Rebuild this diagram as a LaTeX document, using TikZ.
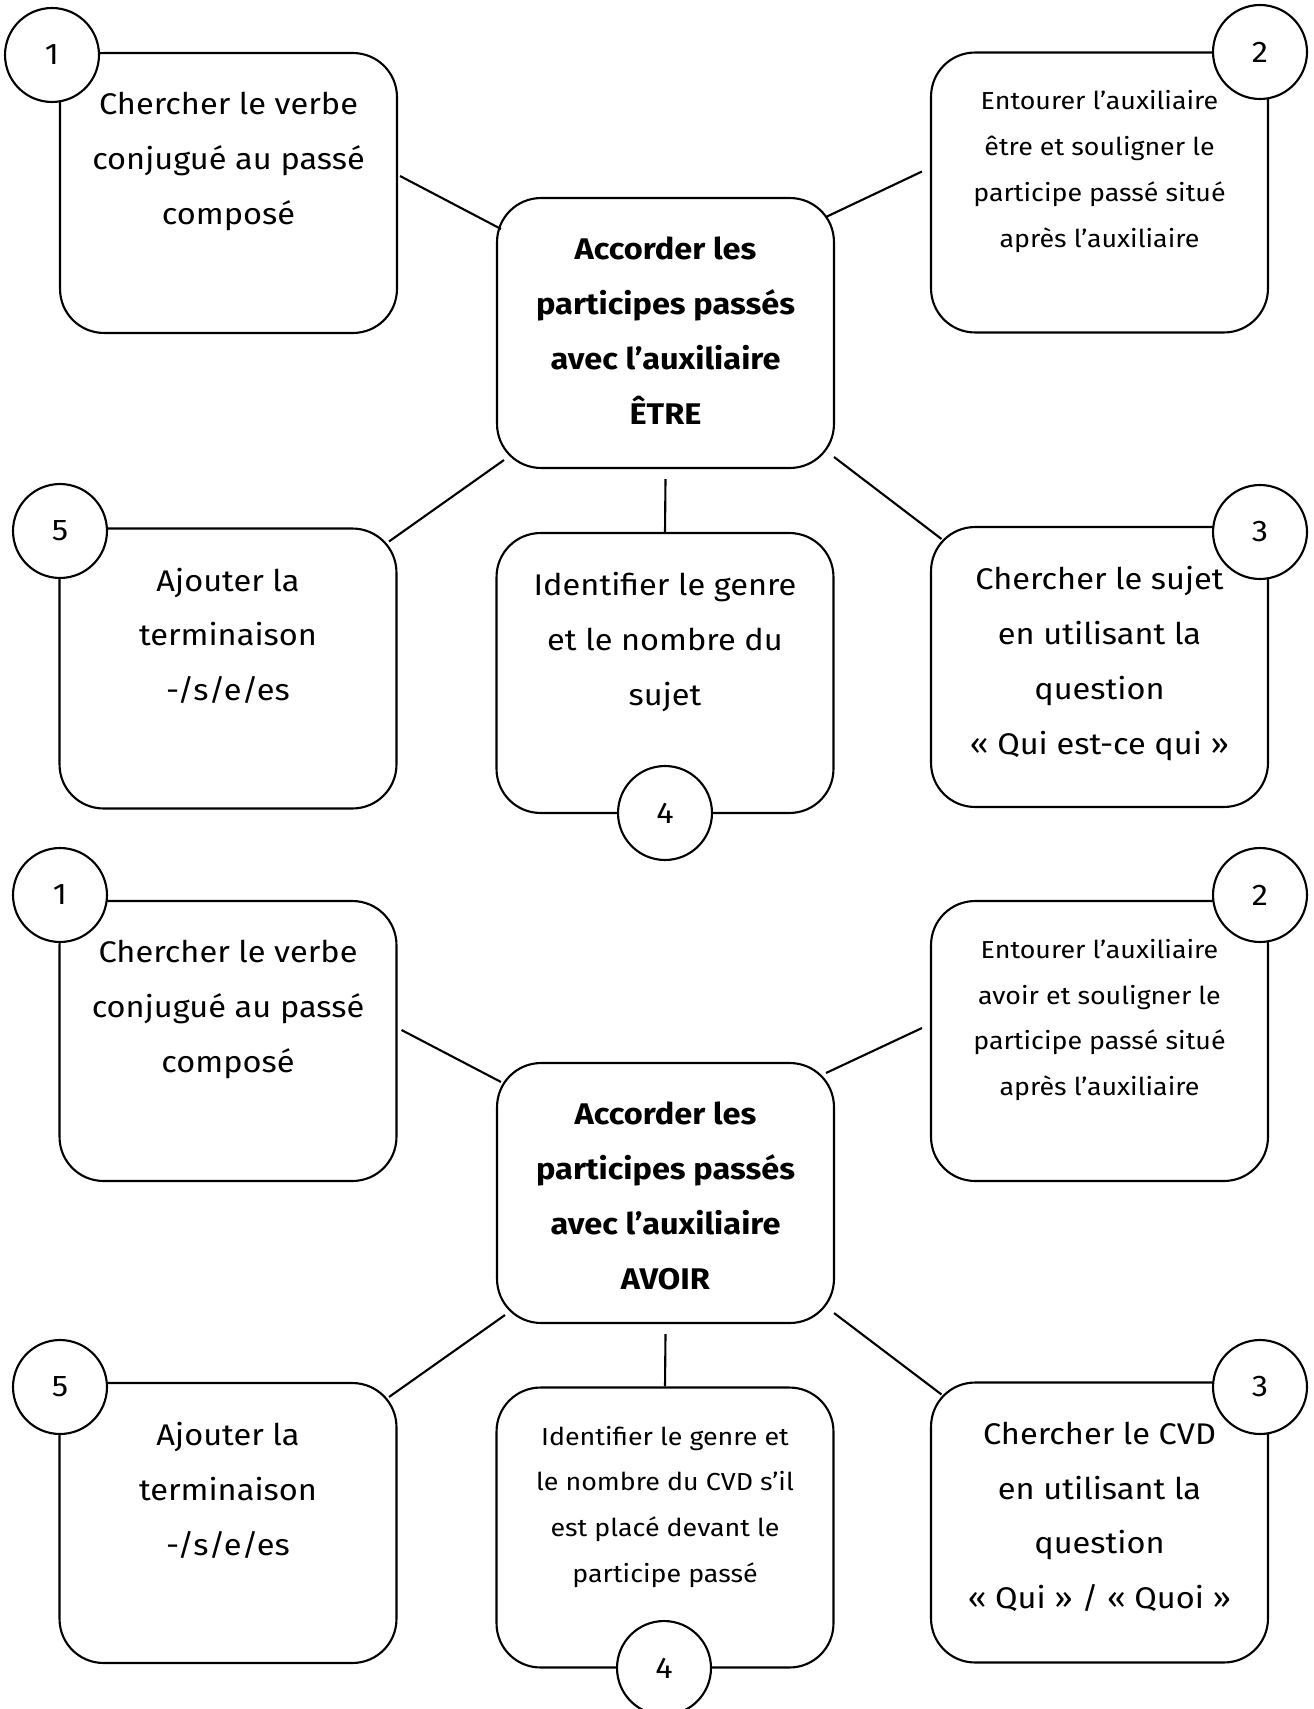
\documentclass[tikz,border=0pt]{standalone}
\usepackage{fontspec}
\setmainfont{Fira Sans}[FakeStretch=1.09]
\usetikzlibrary{positioning}

\tikzset{
  box/.style={draw, line width=1.2pt, rounded corners=0.88cm, minimum width=6.74cm, minimum height=5.6cm, inner sep=0pt},
  bigtxt/.style={align=center, inner sep=0pt, font=\fontsize{17pt}{31.2pt}\selectfont},
  smalltxt/.style={align=center, inner sep=0pt, font=\fontsize{14pt}{26pt}\selectfont},
  headtxt/.style={align=center, inner sep=0pt, font=\fontsize{17pt}{31.2pt}\selectfont\bfseries},
  num/.style={draw, circle, fill=white, line width=1.2pt, minimum size=1.88cm, inner sep=0pt, font=\fontsize{17pt}{20pt}\selectfont},
  link/.style={line width=1.2pt}
}

\begin{document}
\begin{tikzpicture}[x=0.02cm, y=-0.02cm]
    \useasboundingbox (0,0) rectangle (1313,1709);

    % Auxiliaire etre
    \node[box] (e1) at (228.5,193) {};
    \node[box] (e2) at (1099.5,192.5) {};
    \node[box, minimum height=5.4cm] (ec) at (665.5,333) {};
    \node[box] (e5) at (228,668.5) {};
    \node[box] (e4) at (665,673) {};
    \node[box] (e3) at (1099.5,667) {};

    \node[bigtxt, below=0.8cm of e1.north] (e1t) {Chercher le verbe\\conjugué au passé\\composé};
    \node[smalltxt, below=0.78cm of e2.north] (e2t) {Entourer l’auxiliaire\\être et souligner le\\participe passé situé\\après l’auxiliaire};
    \node[headtxt, below=0.8cm of ec.north] (ect) {Accorder les\\participes passés\\avec l’auxiliaire\\ÊTRE};
    \node[bigtxt, below=0.8cm of e5.north] (e5t) {Ajouter la\\terminaison\\-/s/e/es};
    \node[bigtxt, below=0.8cm of e4.north] (e4t) {Identifier le genre\\et le nombre du\\sujet};
    \node[bigtxt, below=0.8cm of e3.north] (e3t) {Chercher le sujet\\en utilisant la\\question\\« Qui est-ce qui »};

    \draw[link] ([shift={(2,-17)}]e1.east) -- ([shift={(5,32)}]ec.north west);
    \draw[link] ([shift={(-8,-21)}]e2.west) -- ([shift={(-9,20)}]ec.north east);
    \draw[link] ([shift={(8,-9)}]ec.south west) -- ([shift={(-8.5,14)}]e5.north east);
    \draw[link] ([yshift=-0.2cm]ec.south) -- (e4.north);
    \draw[link] ([shift={(-1,-12)}]ec.south east) -- ([shift={(11.5,13)}]e3.north west);

    \node[num] (e1n) at (52,55) {1};
    \node[num] (e2n) at (1260,52) {2};
    \node[num] (e3n) at (1260,532) {3};
    \node[num] (e4n) at (665,813) {4};
    \node[num] (e5n) at (60,531) {5};

    % Auxiliaire avoir
    \node[box] (a1) at (228,1041) {};
    \node[box] (a2) at (1099.5,1041) {};
    \node[box, minimum height=5.2cm] (ac) at (665.5,1193) {};
    \node[box] (a5) at (228,1523) {};
    \node[box] (a4) at (665,1527.5) {};
    \node[box] (a3) at (1099.5,1522.5) {};

    \node[bigtxt, below=0.8cm of a1.north] (a1t) {Chercher le verbe\\conjugué au passé\\composé};
    \node[smalltxt, below=0.78cm of a2.north] (a2t) {Entourer l’auxiliaire\\avoir et souligner le\\participe passé situé\\après l’auxiliaire};
    \node[headtxt, below=0.8cm of ac.north] (act) {Accorder les\\participes passés\\avec l’auxiliaire\\AVOIR};
    \node[bigtxt, below=0.8cm of a5.north] (a5t) {Ajouter la\\terminaison\\-/s/e/es};
    \node[smalltxt, below=0.78cm of a4.north] (a4t) {Identifier le genre et\\le nombre du CVD s’il\\est placé devant le\\participe passé};
    \node[bigtxt, below=0.8cm of a3.north] (a3t) {Chercher le CVD\\en utilisant la\\question\\« Qui » / « Quoi »};

    \draw[link] ([shift={(4,-11)}]a1.east) -- ([shift={(5,20)}]ac.north west);
    \draw[link] ([shift={(-8,-13)}]a2.west) -- ([shift={(-9,11)}]ac.north east);
    \draw[link] ([shift={(9,-9)}]ac.south west) -- ([shift={(-8.5,15)}]a5.north east);
    \draw[link] ([yshift=-0.2cm]ac.south) -- (a4.north);
    \draw[link] ([shift={(-1,-11)}]ac.south east) -- ([shift={(11.5,13)}]a3.north west);

    \node[num] (a1n) at (60,895) {1};
    \node[num] (a2n) at (1260,895) {2};
    \node[num] (a3n) at (1260,1387) {3};
    \node[num] (a4n) at (664,1668) {4};
    \node[num] (a5n) at (60,1387) {5};
\end{tikzpicture}
\end{document}
